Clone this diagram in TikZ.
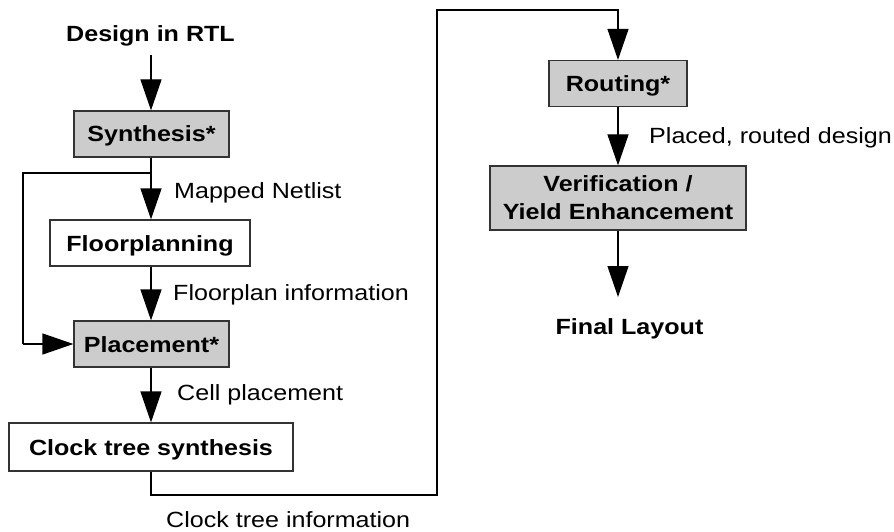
\documentclass[tikz,border=0pt]{standalone}
\usepackage{fontspec}
\setmainfont{Liberation Sans}[FakeStretch=1.14]
\usetikzlibrary{arrows.meta}
\definecolor{boxgray}{HTML}{CCCCCC}
\definecolor{edgegray}{HTML}{333333}
\tikzset{
  flowbox/.style={draw=edgegray, line width=1.2pt, font=\fontsize{22}{28}\selectfont\bfseries,
    inner sep=0pt, text height=16pt, text depth=0pt},
  graybox/.style={flowbox, fill=boxgray},
  whitebox/.style={flowbox, fill=white},
  term/.style={font=\fontsize{22}{28}\selectfont\bfseries, inner sep=0pt, anchor=base},
  note/.style={font=\fontsize{22}{28}\selectfont, inner sep=0pt, anchor=base west},
  flow/.style={draw=black, line width=1.2pt, -{Triangle[length=31pt, width=21pt]}},
  wire/.style={draw=black, line width=1.2pt}
}
\begin{document}
\begin{tikzpicture}[x=1pt, y=-1pt]
  \useasboundingbox (0,0) rectangle (894,532);

  % left column
  \node[term] (rtl) at (150.5,42) {Design in RTL};
  \coordinate (rtlout) at (151,55);
  \node[graybox, minimum width=155pt, minimum height=46pt] (synth) at (151.5,134) {Synthesis*};
  \node[whitebox, minimum width=200pt, minimum height=46pt] (floor) at (150,243) {Floorplanning};
  \node[graybox, minimum width=155pt, minimum height=46pt] (place) at (151.5,344) {Placement*};
  \node[whitebox, minimum width=284pt, minimum height=48pt] (cts) at (151,447) {Clock tree synthesis};

  % right column
  \node[graybox, minimum width=138pt, minimum height=46pt] (route) at (618,83.5) {Routing*};
  \node[graybox, minimum width=256pt, minimum height=64pt, align=center,
        text height=, text depth=] (verif) at (618,198) {Verification /\\Yield Enhancement};
  \coordinate (finalin) at (618,297);
  \node[term] (final) at (629.5,334) {Final Layout};

  % connectors
  \draw[flow] (rtlout) -- (synth.north -| rtlout);
  \draw[flow] (synth.south -| rtlout) -- (floor.north -| rtlout);
  \coordinate (split) at (151,173);
  \coordinate (loopx) at (23,344);
  \draw[wire] (split) -| (loopx);
  \draw[flow] (loopx) -- (place.west);
  \draw[flow] (floor.south -| rtlout) -- (place.north -| rtlout);
  \draw[flow] (place.south -| rtlout) -- (cts.north -| rtlout);

  \coordinate (low) at (437,495);
  \coordinate (high) at (437,10);
  \draw[flow] (cts.south) |- (low) -- (high) -| (route.north);
  \draw[flow] (route.south) -- (verif.north);
  \draw[flow] (verif.south) -- (finalin);

  % edge labels
  \node[note] (l1) at (174,198) {Mapped Netlist};
  \node[note] (l2) at (173,300) {Floorplan information};
  \node[note] (l3) at (177,400) {Cell placement};
  \node[note] (l4) at (166,527) {Clock tree information};
  \node[note] (l5) at (649,143) {Placed, routed design};
\end{tikzpicture}
\end{document}
